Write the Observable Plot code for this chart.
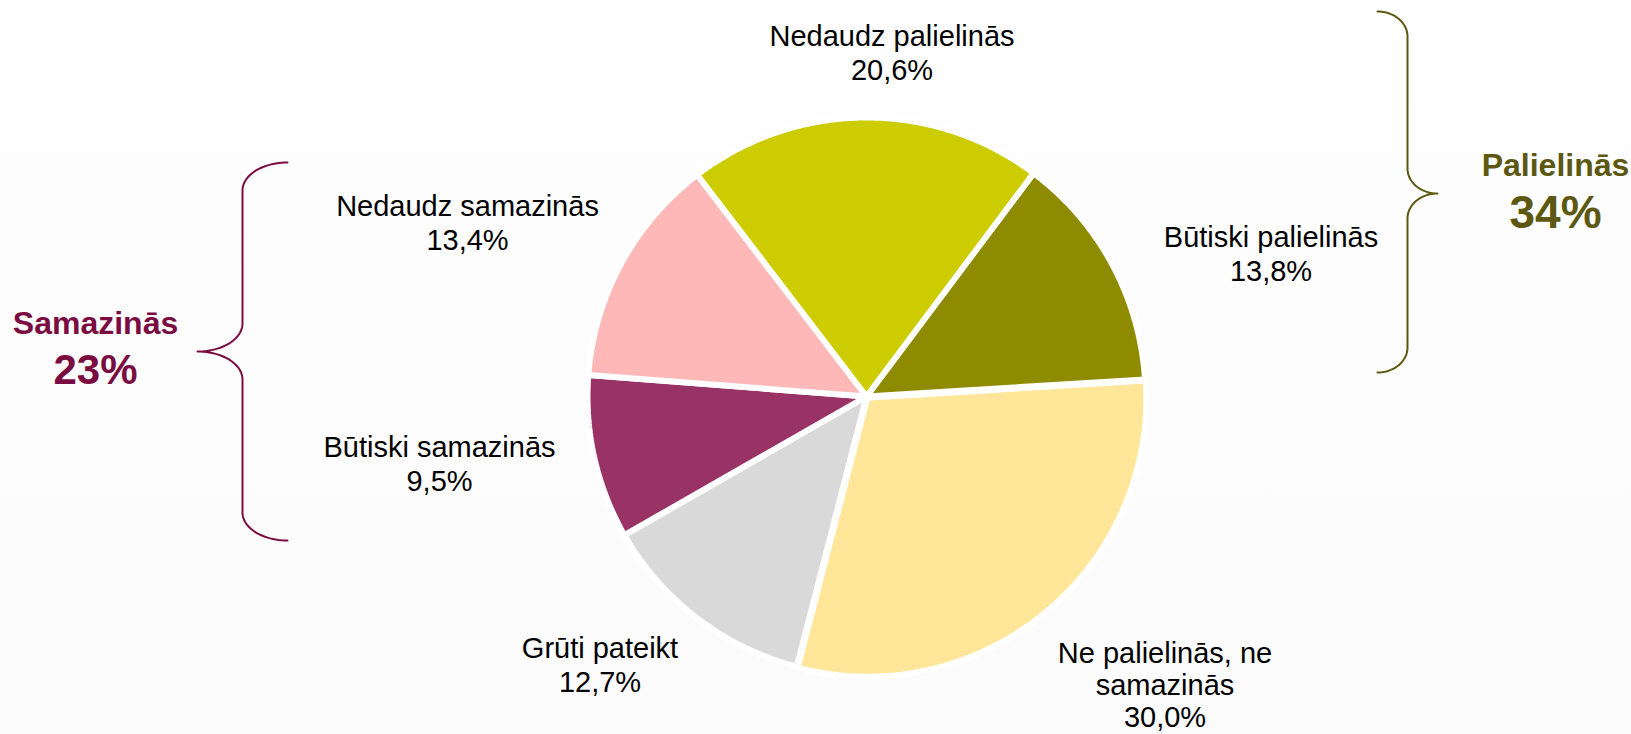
<!DOCTYPE html>
<html>
<head>
<meta charset="utf-8">
<script src="https://cdn.jsdelivr.net/npm/d3@7"></script>
<script src="https://cdn.jsdelivr.net/npm/@observablehq/plot@0.6"></script>
<style>
  html, body { margin: 0; padding: 0; overflow: hidden; }
  body { width: 1631px; height: 734px; background: linear-gradient(#ffffff 0%, #fefefe 8%, #fbfbfb 100%); }
  #chart svg { display: block; max-width: none; }
</style>
</head>
<body>
<div id="chart"></div>
<script>
// ---- data ----
const categories = ["Būtiski palielinās", "Ne palielinās, ne samazinās", "Grūti pateikt", "Būtiski samazinās", "Nedaudz samazinās", "Nedaudz palielinās"];
const values = [13.8, 30.0, 12.7, 9.5, 13.4, 20.6];
const groupNames = ["Samazinās", "Palielinās"];
const groupValues = [23, 34];

// ---- styles / layout ----
const palette = ["#8f8b00", "#ffe699", "#d9d9d9", "#993366", "#ffb8b8", "#cccc00"];
const groupColors = ["#7b0c42", "#5c5812"];
const startDeg = 36.8;                 // clockwise from 12 o'clock, first slice start
const explodePx = [0, 1.5, 0, 0, 0, 0];   // small explosion per slice
const CX = 866, CY = 396, R = 279;     // pie centre & radius in px
const toX = px => (px - CX) / R;
const toY = py => (CY - py) / R;
// label anchor positions (px) and line heights
const labelAnchorPx = [[1270.5, 252.3], [1164.5, 684.5], [599.5, 663.3], [439, 462.3], [467, 221.3], [891.5, 51.3]];
const labelLineHeight = [1.2, 1.1, 1.2, 1.2, 1.2, 1.2];

const fmt = v => v.toFixed(1).replace(".", ",") + "%";

// ---- build slices ----
const pie = d3.pie().sort(null).value(d => d.value)
  .startAngle(startDeg * Math.PI / 180).endAngle(startDeg * Math.PI / 180 + 2 * Math.PI);
const rows = categories.map((c, i) => ({category: c, value: values[i], i}));
const arcs = pie(rows);
const slicePts = [];
arcs.forEach(a => {
  const mid = (a.startAngle + a.endAngle) / 2;
  const off = explodePx[a.data.i] / R;
  const ox = Math.sin(mid) * off, oy = Math.cos(mid) * off;
  slicePts.push({category: a.data.category, x: ox, y: oy});
  const n = Math.max(8, Math.ceil((a.endAngle - a.startAngle) / (Math.PI / 360)));
  for (let k = 0; k <= n; k++) {
    const t = a.startAngle + (a.endAngle - a.startAngle) * k / n;
    slicePts.push({category: a.data.category, x: ox + Math.sin(t), y: oy + Math.cos(t)});
  }
});

const labels = rows.map((r, i) => ({
  x: toX(labelAnchorPx[i][0]), y: toY(labelAnchorPx[i][1]), lh: labelLineHeight[i],
  text: r.category.replace(", ne ", ", ne\n") + "\n" + fmt(r.value)
}));

// ---- braces (pixel layout → data units) ----
function brace(xEnd, xSpine, xTip, yTop, yMid, yBot, ry, id) {
  const pts = [];
  const N = 24;
  for (let k = 0; k <= N; k++) { const t = k / N * Math.PI / 2;
    pts.push([xEnd + (xSpine - xEnd) * Math.sin(t), yTop + ry - ry * Math.cos(t)]); }
  for (let k = 0; k <= N; k++) { const t = k / N * Math.PI / 2;
    pts.push([xTip + (xSpine - xTip) * Math.cos(t), yMid - ry + ry * Math.sin(t)]); }
  for (let k = 0; k <= N; k++) { const t = k / N * Math.PI / 2;
    pts.push([xTip + (xSpine - xTip) * Math.sin(t), yMid + ry - ry * Math.cos(t)]); }
  for (let k = 0; k <= N; k++) { const t = k / N * Math.PI / 2;
    pts.push([xEnd + (xSpine - xEnd) * Math.cos(t), yBot - ry + ry * Math.sin(t)]); }
  return pts.map(([px, py]) => ({id, x: toX(px), y: toY(py)}));
}
const braceLeft = brace(287, 242, 197, 162, 351, 540, 28, 0);
const braceRight = brace(1377, 1407, 1437, 11, 193, 372, 25, 1);

const groupTitles = [
  {x: toX(95), y: toY(323), text: groupNames[0], c: 0},
  {x: toX(1555), y: toY(165), text: groupNames[1], c: 1}
];
const groupPcts = [
  {x: toX(95), y: toY(370), text: groupValues[0] + "%", c: 0},
  {x: toX(1555), y: toY(213), text: groupValues[1] + "%", c: 1}
];

const plot = Plot.plot({
  width: 1631,
  height: 734,
  margin: 0,
  style: {background: "transparent", fontFamily: "'Liberation Sans', Arial, sans-serif"},
  x: {domain: [-1, 1], range: [CX - R, CX + R], axis: null},
  y: {domain: [-1, 1], range: [CY + R, CY - R], axis: null},
  color: {domain: categories, range: palette},
  marks: [
    Plot.line(slicePts, {x: "x", y: "y", z: "category", fill: "category", stroke: "white", strokeWidth: 6, strokeLinejoin: "miter", curve: "linear-closed"}),
    Plot.text(labels.filter(d => d.lh === 1.2), {x: "x", y: "y", text: "text", fontSize: 29, lineHeight: 1.2, fill: "black"}),
    Plot.text(labels.filter(d => d.lh !== 1.2), {x: "x", y: "y", text: "text", fontSize: 29, lineHeight: 1.1, fill: "black"}),
    Plot.line(braceLeft, {x: "x", y: "y", stroke: groupColors[0], strokeWidth: 2}),
    Plot.line(braceRight, {x: "x", y: "y", stroke: groupColors[1], strokeWidth: 2}),
    Plot.text(groupTitles, {x: "x", y: "y", text: "text", fontSize: 32, fontWeight: "bold", fill: d => groupColors[d.c]}),
    Plot.text(groupPcts.slice(0, 1), {x: "x", y: "y", text: "text", fontSize: 42, fontWeight: "bold", fill: groupColors[0]}),
    Plot.text(groupPcts.slice(1), {x: "x", y: "y", text: "text", fontSize: 46, fontWeight: "bold", fill: groupColors[1]})
  ]
});
document.getElementById("chart").appendChild(plot);
</script>
</body>
</html>
